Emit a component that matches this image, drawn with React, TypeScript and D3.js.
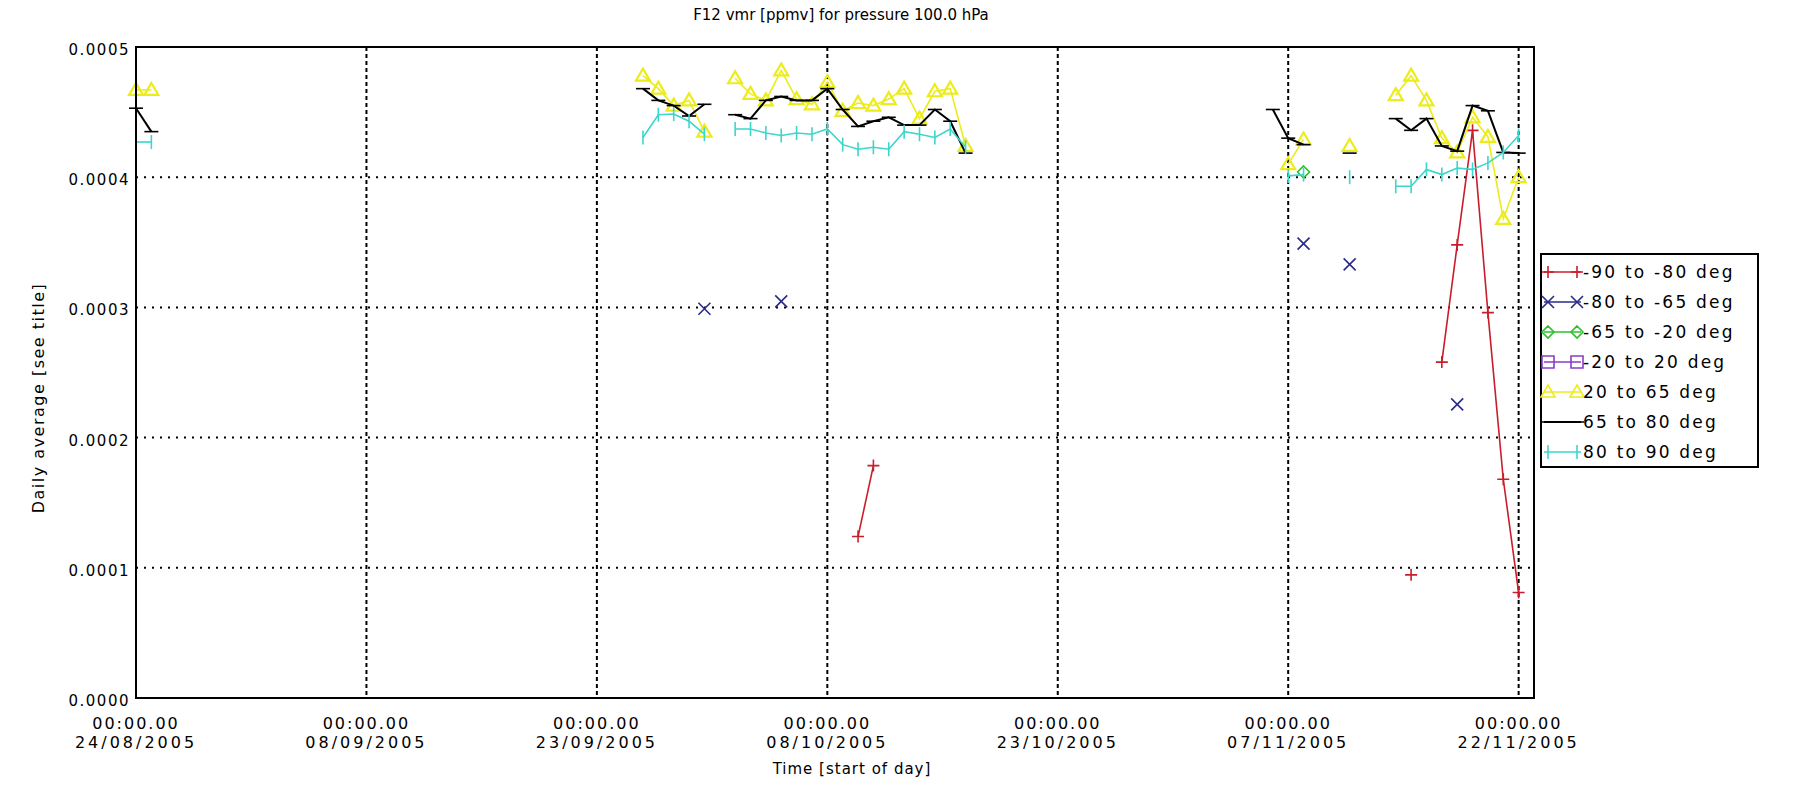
import React from "react";
import * as d3 from "d3";

const W = 1794;
const H = 798;
const PLOT = { left: 136, right: 1534, top: 47, bottom: 698 };

const TITLE = "F12 vmr [ppmv] for pressure 100.0 hPa";
const X_TITLE = "Time [start of day]";
const Y_TITLE = "Daily average [see title]";

const xTickDates = ["2005-08-24", "2005-09-08", "2005-09-23", "2005-10-08", "2005-10-23", "2005-11-07", "2005-11-22"];
const xTickTime = "00:00.00";
const yTicks = [0, 0.0001, 0.0002, 0.0003, 0.0004, 0.0005];
const xDomain = ["2005-08-24", "2005-11-23"];

// -90 to -80 deg
const redDates = ["2005-10-10", "2005-10-11", "2005-11-15", "2005-11-17", "2005-11-18", "2005-11-19", "2005-11-20", "2005-11-21", "2005-11-22"];
const redValues = [0.000124, 0.0001785, 0.0000946, 0.000258, 0.000348, 0.000436, 0.000296, 0.000168, 0.000081];

// -80 to -65 deg
const blueDates = ["2005-09-30", "2005-10-05", "2005-11-08", "2005-11-11", "2005-11-18"];
const blueValues = [0.000299, 0.0003046, 0.000349, 0.000333, 0.0002255];

// -65 to -20 deg
const greenDates = ["2005-11-08"];
const greenValues = [0.000404];

// -20 to 20 deg
const purpleDates: string[] = [];
const purpleValues: number[] = [];

// 20 to 65 deg
const yellowDates = [
  "2005-08-24", "2005-08-25",
  "2005-09-26", "2005-09-27", "2005-09-28", "2005-09-29", "2005-09-30",
  "2005-10-02", "2005-10-03", "2005-10-04", "2005-10-05", "2005-10-06", "2005-10-07", "2005-10-08",
  "2005-10-09", "2005-10-10", "2005-10-11", "2005-10-12", "2005-10-13", "2005-10-14", "2005-10-15", "2005-10-16", "2005-10-17",
  "2005-11-07", "2005-11-08", "2005-11-11",
  "2005-11-14", "2005-11-15", "2005-11-16", "2005-11-17", "2005-11-18", "2005-11-19", "2005-11-20", "2005-11-21", "2005-11-22",
];
const yellowValues = [
  0.000467, 0.000467,
  0.000478, 0.000468, 0.000455, 0.000459, 0.000435,
  0.000476, 0.000464, 0.000459, 0.000482, 0.00046, 0.000456, 0.000473,
  0.000451, 0.000457, 0.000455, 0.00046, 0.000468, 0.000445, 0.000466, 0.000468, 0.000424,
  0.00041, 0.000429, 0.000424,
  0.000463, 0.000478, 0.000459, 0.00043, 0.000419, 0.000446, 0.000431, 0.000368, 0.0004,
];

// 65 to 80 deg
const blackDates = [
  "2005-08-24", "2005-08-25",
  "2005-09-26", "2005-09-27", "2005-09-28", "2005-09-29", "2005-09-30",
  "2005-10-02", "2005-10-03", "2005-10-04", "2005-10-05", "2005-10-06", "2005-10-07", "2005-10-08",
  "2005-10-09", "2005-10-10", "2005-10-11", "2005-10-12", "2005-10-13", "2005-10-14", "2005-10-15", "2005-10-16", "2005-10-17",
  "2005-11-06", "2005-11-07", "2005-11-08", "2005-11-11",
  "2005-11-14", "2005-11-15", "2005-11-16", "2005-11-17", "2005-11-18", "2005-11-19", "2005-11-20", "2005-11-21", "2005-11-22",
];
const blackValues = [
  0.000453, 0.000435,
  0.000468, 0.000459, 0.000455, 0.000447, 0.000456,
  0.000448, 0.000445, 0.000459, 0.000462, 0.000459, 0.000459, 0.000468,
  0.000452, 0.000439, 0.000443, 0.000446, 0.00044, 0.00044, 0.000452, 0.000443, 0.0004185,
  0.000452, 0.00043, 0.000425, 0.0004185,
  0.000445, 0.000436, 0.000445, 0.000424, 0.00042, 0.000455, 0.000451, 0.000419, 0.0004185,
];

// 80 to 90 deg
const cyanDates = [
  "2005-08-24", "2005-08-25",
  "2005-09-26", "2005-09-27", "2005-09-28", "2005-09-29", "2005-09-30",
  "2005-10-02", "2005-10-03", "2005-10-04", "2005-10-05", "2005-10-06", "2005-10-07", "2005-10-08",
  "2005-10-09", "2005-10-10", "2005-10-11", "2005-10-12", "2005-10-13", "2005-10-14", "2005-10-15", "2005-10-16", "2005-10-17",
  "2005-11-07", "2005-11-08", "2005-11-11",
  "2005-11-14", "2005-11-15", "2005-11-16", "2005-11-17", "2005-11-18", "2005-11-19", "2005-11-20", "2005-11-21", "2005-11-22",
];
const cyanValues = [
  0.000427, 0.000427,
  0.0004305, 0.000448, 0.0004485, 0.000443, 0.000433,
  0.000437, 0.000437, 0.000434, 0.000432, 0.000434, 0.000433, 0.000437,
  0.000425, 0.0004215, 0.000423, 0.0004215, 0.000435, 0.000433, 0.0004305, 0.000437, 0.000423,
  0.000401, 0.000402, 0.0004,
  0.000393, 0.000393, 0.000406, 0.000402, 0.000407, 0.000406, 0.000411, 0.000419, 0.000432,
];

const seriesNames = ["-90 to -80 deg", "-80 to -65 deg", "-65 to -20 deg", "-20 to 20 deg", "20 to 65 deg", "65 to 80 deg", "80 to 90 deg"];
const seriesColors = ["#c81e2c", "#2a2a8a", "#2cc02c", "#8a3cc8", "#ecec1c", "#000000", "#3cd6cc"];
const seriesMarkers = ["plus", "cross", "diamond", "square", "triangle", "hbar", "vbar"];
const seriesDates = [redDates, blueDates, greenDates, purpleDates, yellowDates, blackDates, cyanDates];
const seriesValues = [redValues, blueValues, greenValues, purpleValues, yellowValues, blackValues, cyanValues];

const FONT = "DejaVu Sans";
const parse = (s: string) => new Date(s + "T00:00:00Z");

function markerPath(type: string, x: number, y: number): string {
  const s = 6;
  switch (type) {
    case "plus":
      return `M${x - s},${y}H${x + s}M${x},${y - s}V${y + s}`;
    case "cross":
      return `M${x - s},${y - s}L${x + s},${y + s}M${x + s},${y - s}L${x - s},${y + s}`;
    case "diamond":
      return `M${x},${y - s}L${x + s},${y}L${x},${y + s}L${x - s},${y}Z`;
    case "square":
      return `M${x - s},${y - s}H${x + s}V${y + s}H${x - s}Z`;
    case "triangle":
      return `M${x},${y - 7}L${x + 7},${y + 5}L${x - 7},${y + 5}Z`;
    case "hbar":
      return `M${x - 7},${y}H${x + 7}`;
    case "vbar":
      return `M${x},${y - 7}V${y + 7}`;
    default:
      return "";
  }
}

export default function App() {
  const x = d3.scaleUtc().domain(xDomain.map(parse)).range([PLOT.left, PLOT.right]);
  const y = d3.scaleLinear().domain([0, 0.0005]).range([PLOT.bottom, PLOT.top]);
  const fmt = d3.format(".4f");
  const DAY = 86400000;

  const series = seriesNames.map((name, i) => {
    const pts = seriesDates[i].map((d, j) => ({ date: parse(d), value: seriesValues[i][j] }));
    const segs: { date: Date; value: number }[][] = [];
    pts.forEach((p, j) => {
      if (j === 0 || p.date.getTime() - pts[j - 1].date.getTime() > DAY * 1.5) segs.push([p]);
      else segs[segs.length - 1].push(p);
    });
    return { name, color: seriesColors[i], marker: seriesMarkers[i], pts, segs };
  });

  const line = d3
    .line<{ date: Date; value: number }>()
    .x((d) => x(d.date))
    .y((d) => y(d.value));

  const legendX = 1541;
  const legendY = 254;
  const legendW = 217;
  const legendH = 213;
  const rowH = 30;

  return (
    <svg
      width={W}
      height={H}
      style={{ position: "absolute", left: 0, top: 0, background: "#fff" }}
      fontFamily={FONT}
    >
      <rect x={0} y={0} width={W} height={H} fill="#fff" />
      <text x={841} y={20} textAnchor="middle" fontSize={15}>
        {TITLE}
      </text>

      {/* horizontal grid */}
      {yTicks
        .filter((t) => t > 0 && t < 0.0005)
        .map((t) => (
          <line key={"hg" + t} x1={PLOT.left} x2={PLOT.right} y1={y(t)} y2={y(t)} stroke="#000" strokeWidth={2} strokeDasharray="2,6" />
        ))}
      {/* vertical grid */}
      {xTickDates.map((d) => (
        <line key={"vg" + d} x1={x(parse(d))} x2={x(parse(d))} y1={PLOT.top} y2={PLOT.bottom} stroke="#000" strokeWidth={2} strokeDasharray="4,3" />
      ))}

      {/* y tick labels */}
      {yTicks.map((t) => (
        <text key={"yl" + t} x={PLOT.left - 6} y={y(t) + 3} textAnchor="end" dominantBaseline="central" fontSize={15} letterSpacing={1.5}>
          {fmt(t)}
        </text>
      ))}
      {/* x tick labels */}
      {xTickDates.map((d) => {
        const dt = parse(d);
        return (
          <g key={"xl" + d}>
            <text x={x(dt)} y={723} textAnchor="middle" dominantBaseline="central" fontSize={16} letterSpacing={2}>
              {xTickTime}
            </text>
            <text x={x(dt)} y={742} textAnchor="middle" dominantBaseline="central" fontSize={16} letterSpacing={3}>
              {d3.utcFormat("%d/%m/%Y")(dt)}
            </text>
          </g>
        );
      })}
      <text x={852} y={769} textAnchor="middle" dominantBaseline="central" fontSize={15} letterSpacing={1}>
        {X_TITLE}
      </text>
      <text
        transform={`translate(38,398) rotate(-90)`}
        textAnchor="middle"
        dominantBaseline="central"
        fontSize={16}
        letterSpacing={1.5}
      >
        {Y_TITLE}
      </text>

      {/* data */}
      <g>
        {series.map((s) => (
          <g key={s.name}>
            {s.segs
              .filter((seg) => seg.length > 1)
              .map((seg, k) => (
                <path key={k} d={line(seg) || ""} fill="none" stroke={s.color} strokeWidth={s.color === "#000000" ? 2 : 1.6} />
              ))}
            {s.pts.map((p, k) => (
              <path
                key={"m" + k}
                d={markerPath(s.marker, x(p.date), y(p.value))}
                fill="none"
                stroke={s.color}
                strokeWidth={s.marker === "triangle" ? 2.2 : 1.6}
              />
            ))}
          </g>
        ))}
      </g>

      {/* frame */}
      <rect x={PLOT.left} y={PLOT.top} width={PLOT.right - PLOT.left} height={PLOT.bottom - PLOT.top} fill="none" stroke="#000" strokeWidth={2} />

      {/* legend */}
      <rect x={legendX} y={legendY} width={legendW} height={legendH} fill="#fff" stroke="#000" strokeWidth={2} />
      {series.map((s, i) => {
        const cy = legendY + 18 + i * rowH;
        const x1 = legendX + 3;
        const x2 = legendX + 40;
        return (
          <g key={"lg" + s.name}>
            <line x1={x1} x2={x2} y1={cy} y2={cy} stroke={s.color} strokeWidth={s.color === "#000000" ? 2 : 1.6} />
            <path d={markerPath(s.marker, x1 + 4, cy) + markerPath(s.marker, x2 - 4, cy)} fill="none" stroke={s.color} strokeWidth={1.6} />
            <text x={x2 + 2} y={cy} dominantBaseline="central" fontSize={17} letterSpacing={2.2}>
              {s.name}
            </text>
          </g>
        );
      })}
    </svg>
  );
}
